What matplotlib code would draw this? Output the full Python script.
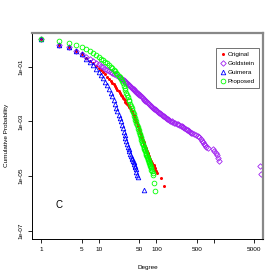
import numpy as np
import matplotlib
matplotlib.use("Agg")
import matplotlib.pyplot as plt

plt.rcParams['font.family'] = ['Liberation Sans', 'DejaVu Sans']

# degree / log10(cumulative probability)
orig_deg = list(range(1, 81)) + [82, 83, 85, 87, 89, 91, 93, 96, 99, 104, 119, 133]
orig_lp = [0, -0.19, -0.28, -0.42, -0.55, -0.67, -0.78, -0.87, -0.96, -1.04,
           -1.12, -1.20, -1.28, -1.36, -1.44, -1.51, -1.58, -1.65, -1.72, -1.78,
           -1.84, -1.90, -1.96, -2.02, -2.08, -2.13, -2.18, -2.23, -2.28, -2.32,
           -2.36, -2.40, -2.44, -2.48, -2.52, -2.57, -2.62, -2.67, -2.72, -2.77,
           -2.82, -2.87, -2.92, -2.97, -3.02, -3.07, -3.12, -3.18, -3.24, -3.30,
           -3.36, -3.42, -3.47, -3.51, -3.56, -3.60, -3.64, -3.68, -3.72, -3.76,
           -3.81, -3.86, -3.90, -3.93, -3.97, -4.00, -4.04, -4.08, -4.12, -4.15,
           -4.19, -4.23, -4.27, -4.30, -4.34, -4.37, -4.40, -4.43, -4.45, -4.47,
           -4.50, -4.52, -4.55, -4.58, -4.61, -4.63, -4.70, -4.77, -4.83, -4.89, -5.08, -5.37]

gold_deg = (list(range(1, 16)) + [16, 17, 18, 20, 22, 23, 24] + list(range(25, 49)) +
            [50, 52, 54, 56, 58, 60, 62, 64, 66, 68, 70, 73, 76, 79, 82, 85, 88, 91, 94, 97,
             100, 104, 108, 112, 116, 120, 125, 130, 135, 140, 145, 150, 157, 165, 173, 183, 190,
             200, 212, 225, 237, 250, 262, 275, 285, 295, 307, 320, 335, 350, 365, 380, 395, 410,
             450, 490, 537, 560, 585, 613, 635, 660, 690, 720, 787, 980, 1020, 1080, 1130, 1180,
             1236, 6400, 6450])
gold_lp = [0, -0.19, -0.28, -0.42, -0.53, -0.63, -0.71, -0.78, -0.85, -0.91, -0.97, -1.02, -1.07,
           -1.12, -1.16, -1.20, -1.23, -1.26, -1.32, -1.38, -1.41, -1.43,
           -1.45, -1.48, -1.50, -1.53, -1.55, -1.58, -1.60, -1.63, -1.66, -1.68, -1.71, -1.73,
           -1.76, -1.78, -1.80, -1.83, -1.85, -1.87, -1.89, -1.91, -1.93, -1.95, -1.97, -1.99,
           -2.02, -2.05, -2.08, -2.11, -2.15, -2.18, -2.21, -2.24, -2.27, -2.30, -2.33, -2.36,
           -2.39, -2.42, -2.44, -2.47, -2.50, -2.53, -2.55, -2.58,
           -2.60, -2.63, -2.66, -2.69, -2.71, -2.74, -2.77, -2.80, -2.82, -2.85, -2.88, -2.90,
           -2.92, -2.95, -2.97, -2.99, -3.01,
           -3.04, -3.07, -3.09, -3.11, -3.13, -3.15, -3.17, -3.19, -3.21, -3.24, -3.27, -3.30,
           -3.33, -3.36, -3.39, -3.42, -3.44,
           -3.47, -3.50, -3.53, -3.57, -3.63, -3.71, -3.76, -3.82, -3.88, -3.93, -3.99, -4.00,
           -4.08, -4.15, -4.22, -4.32, -4.44, -4.63, -4.93]

guim_deg = list(range(1, 48)) + [61]
guim_lp = [0, -0.19, -0.29, -0.42, -0.55, -0.70, -0.83, -0.95, -1.07, -1.18,
           -1.30, -1.42, -1.55, -1.68, -1.82, -1.95, -2.08, -2.22, -2.36, -2.50,
           -2.62, -2.75, -2.87, -3.00, -3.12, -3.25, -3.37, -3.50, -3.61, -3.72,
           -3.82, -3.92, -4.01, -4.10, -4.18, -4.25, -4.32, -4.38, -4.44, -4.50,
           -4.56, -4.62, -4.68, -4.74, -4.85, -4.95, -5.04, -5.51]

prop_deg = list(range(1, 81)) + [82, 84, 86, 88, 91, 96]
prop_lp = [0, -0.055, -0.13, -0.20, -0.28, -0.35, -0.42, -0.50, -0.57, -0.64,
           -0.70, -0.76, -0.83, -0.88, -0.94, -1.00, -1.06, -1.12, -1.17, -1.23,
           -1.28, -1.34, -1.39, -1.45, -1.52, -1.60, -1.69, -1.78, -1.86, -1.95,
           -2.03, -2.12, -2.20, -2.27, -2.35, -2.43, -2.50, -2.58, -2.65, -2.73,
           -2.80, -2.87, -2.93, -3.00, -3.07, -3.13, -3.20, -3.27, -3.33, -3.40,
           -3.46, -3.51, -3.57, -3.62, -3.68, -3.73, -3.78, -3.83, -3.87, -3.92,
           -3.96, -4.01, -4.05, -4.10, -4.14, -4.18, -4.23, -4.27, -4.31, -4.35,
           -4.38, -4.42, -4.46, -4.50, -4.53, -4.57, -4.60, -4.63, -4.67, -4.70,
           -4.76, -4.83, -4.89, -4.95, -5.25, -5.56]

labels = ["Original", "Goldstein", "Guimera", "Proposed"]
xticks = [1, 5, 10, 50, 100, 500, 1000, 5000]
xticklabels = ["1", "5", "10", "50", "100", "500", "", "5000"]
yticks = [1e-1, 1e-3, 1e-5, 1e-7]
yticklabels = ["1e-01", "1e-03", "1e-05", "1e-07"]

fig = plt.figure(figsize=(2.8, 2.8), dpi=100)
ax = fig.add_axes([0.1154, 0.1464, 0.8236, 0.7368])
fs = 4.6
ax.plot(orig_deg, 10**np.array(orig_lp), 'o', ls='none', color='#FF0000', ms=2.2, mew=0, label=labels[0])
ax.plot(gold_deg, 10**np.array(gold_lp), 'D', ls='none', mfc='none', mec='#A020F0', ms=2.8, mew=0.6, label=labels[1])
ax.plot(guim_deg, 10**np.array(guim_lp), '^', ls='none', mfc='none', mec='#0000FF', ms=3.3, mew=0.6, label=labels[2])
ax.plot(prop_deg, 10**np.array(prop_lp), 'o', ls='none', mfc='none', mec='#00FF00', ms=3.4, mew=0.6, label=labels[3])

ax.set_xscale('log'); ax.set_yscale('log')
ax.set_xlim(10**-0.156, 10**3.85); ax.set_ylim(10**-7.3, 10**0.244)
ax.xaxis.set_minor_locator(matplotlib.ticker.NullLocator())
ax.yaxis.set_minor_locator(matplotlib.ticker.NullLocator())
ax.set_xticks(xticks); ax.set_xticklabels(xticklabels, fontsize=fs)
ax.set_yticks(yticks); ax.set_yticklabels(yticklabels, fontsize=fs, rotation=90, va='center')
ax.tick_params(direction='out', length=3, width=0.6, pad=3)
for s in ['left', 'bottom']:
    ax.spines[s].set_color('black'); ax.spines[s].set_linewidth(0.7)
for s in ['top', 'right']:
    ax.spines[s].set_color('#888888'); ax.spines[s].set_linewidth(1.6)
ax.set_xlabel("Degree", fontsize=fs, labelpad=9)
ax.set_ylabel("Cumulative Probability", fontsize=fs, labelpad=7)
ax.text(0.115, 0.165, "C", transform=ax.transAxes, fontsize=7, ha='center', va='center')
leg = ax.legend(loc='upper right', bbox_to_anchor=(0.982, 0.925), fontsize=fs, frameon=True, fancybox=False,
                borderpad=0.6, handletextpad=0.3, labelspacing=0.55, handlelength=1.0, borderaxespad=0)
leg.get_frame().set_edgecolor('#333333'); leg.get_frame().set_linewidth(0.6)
fig.savefig("out.png", dpi=100)
